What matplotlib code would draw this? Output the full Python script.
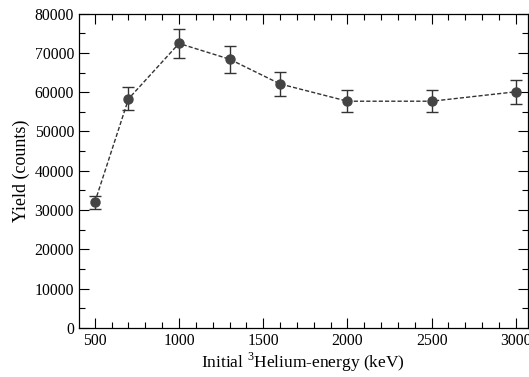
import numpy as np
import matplotlib.pyplot as plt
from matplotlib.ticker import MultipleLocator

plt.rcParams['font.family'] = ['Liberation Serif', 'DejaVu Serif']
plt.rcParams['mathtext.fontset'] = 'custom'
plt.rcParams['mathtext.rm'] = 'Liberation Serif'

energy = [500, 700, 1000, 1300, 1600, 2000, 2500, 3000]
yield_counts = [32000, 58300, 72400, 68400, 62100, 57700, 57700, 60100]
yield_err = [1650, 2900, 3600, 3400, 3100, 2800, 2800, 3000]

fig = plt.figure(figsize=(5.29, 3.77), dpi=100)
ax = fig.add_axes([0.149, 0.130, 0.849, 0.834])

ax.errorbar(energy, yield_counts, yerr=yield_err, fmt='o', color='#444444',
            markersize=6.5, ecolor='#333333', elinewidth=1.0, capsize=4,
            capthick=1.0, zorder=3)
ax.plot(energy, yield_counts, '--', color='#333333', lw=1.0, dashes=(3, 1.5), zorder=2)

ax.set_xlim(405, 3072)
ax.set_ylim(0, 80000)
ax.xaxis.set_major_locator(MultipleLocator(500))
ax.xaxis.set_minor_locator(MultipleLocator(100))
ax.yaxis.set_major_locator(MultipleLocator(10000))
ax.yaxis.set_minor_locator(MultipleLocator(5000))
ax.tick_params(which='both', direction='in', top=True, right=True, labelsize=11.3)
ax.tick_params(which='major', length=7, width=0.8)
ax.tick_params(which='minor', length=4, width=0.8)

ax.set_xlabel('Initial $^3$Helium-energy (keV)', fontsize=12.5, labelpad=1)
ax.set_ylabel('Yield (counts)', fontsize=13, labelpad=3)

for s in ax.spines.values():
    s.set_linewidth(0.9)

fig.savefig('out.png', dpi=100)
